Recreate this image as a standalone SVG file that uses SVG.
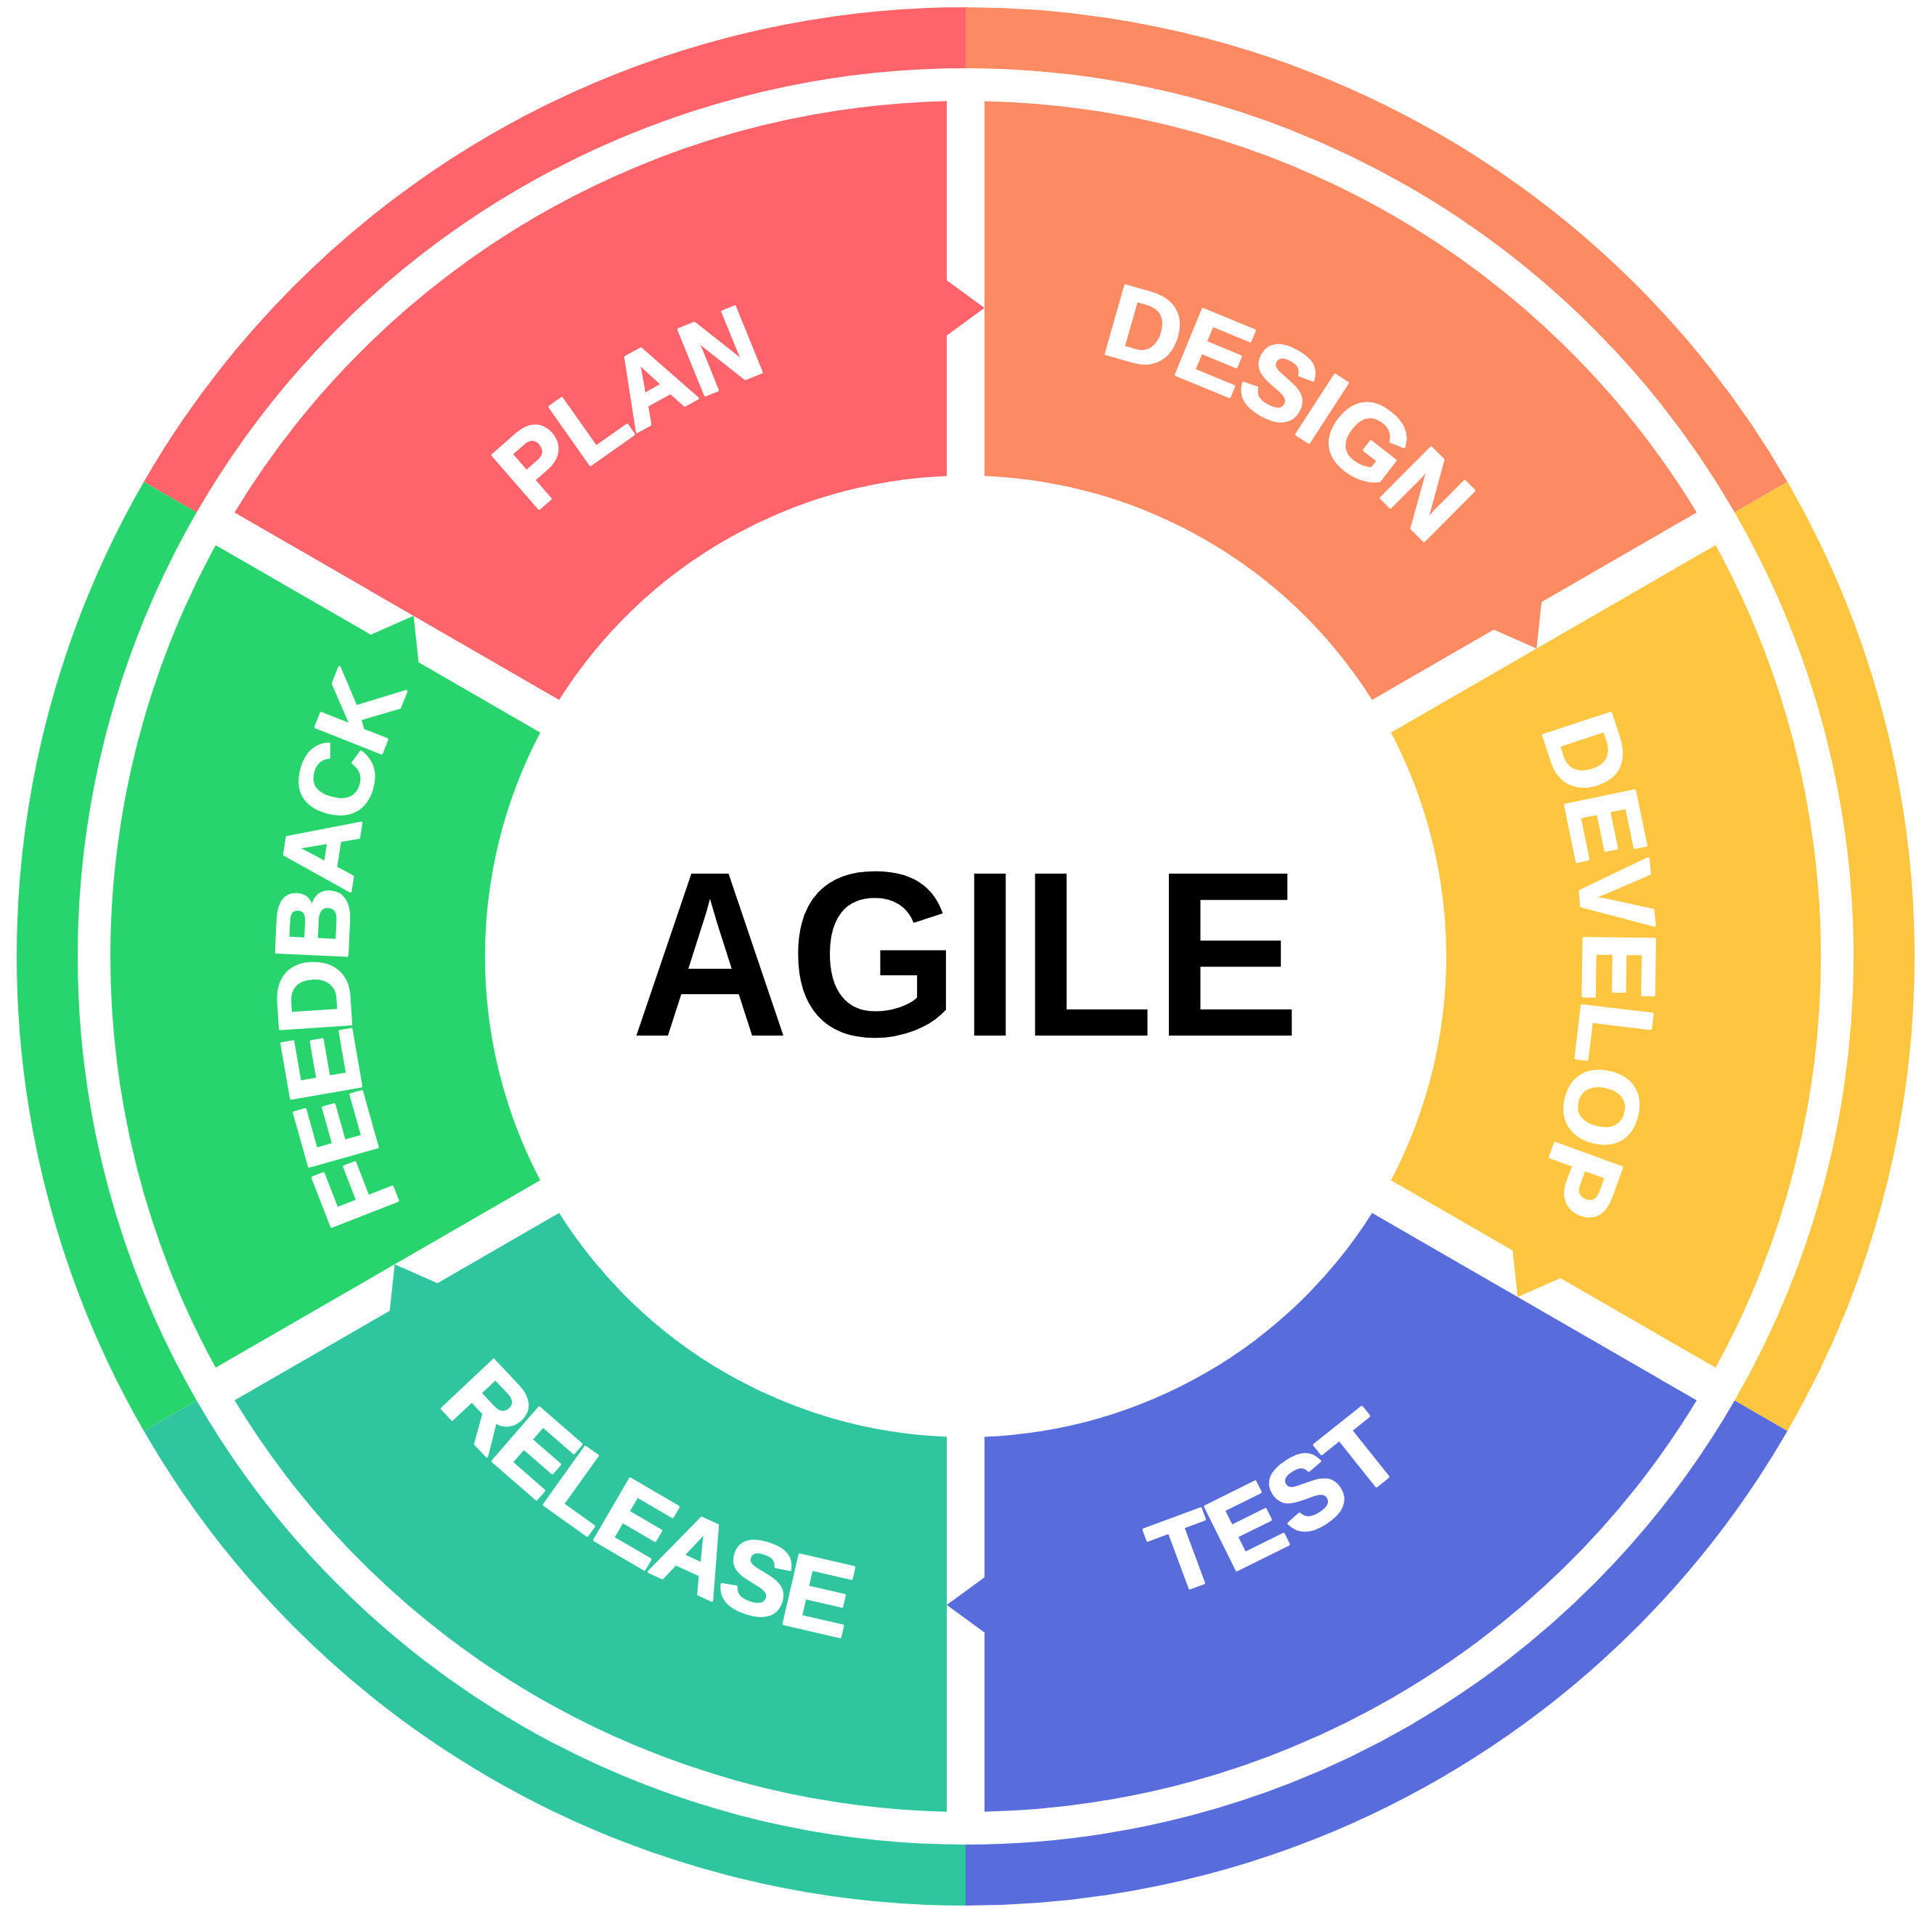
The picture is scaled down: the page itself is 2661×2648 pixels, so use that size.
<svg xmlns="http://www.w3.org/2000/svg" width="2661" height="2648" viewBox="0 0 2661 2648">
  <style>
    .ring { fill: none; stroke-width: 84; stroke-linecap: butt; }
    .label { font-family: "Liberation Sans", Arial, sans-serif; font-weight: 700; font-size: 142px; fill: #ffffff; stroke: #ffffff; stroke-width: 3.5px; stroke-linejoin: round; letter-spacing: -2px; }
    .title { font-family: "Liberation Sans", Arial, sans-serif; font-weight: 700; font-size: 324px; fill: #000000; }
    .plan { fill: #FE6469; } .design { fill: #FC8A62; } .develop { fill: #FEC640; }
    .test { fill: #586DDB; } .release { fill: #2FC59E; } .feedback { fill: #28D56C; }
  </style>
  <defs>
    <!-- baseline arcs: upper half runs clockwise, lower half counter-clockwise -->
    <path id="arcTop" d="M479,1317 A851,851 0 0 1 2181,1317"/>
    <path id="arcRelease" d="M378,1317 A952,952 0 0 0 2282,1317"/>
    <path id="arcTest" d="M407,1317 A923,923 0 0 0 2253,1317"/>
  </defs>
  <rect width="2661" height="2648" fill="#ffffff"/>

  <!-- outer colour ring -->
  <g id="outer-ring">
    <path class="ring" stroke="#FE6469" d="M234.48,684.5 A1265,1265 0 0 1 1330,52"/>
    <path class="ring" stroke="#FC8A62" d="M1330,52 A1265,1265 0 0 1 2425.52,684.5"/>
    <path class="ring" stroke="#FEC640" d="M2425.52,684.5 A1265,1265 0 0 1 2425.52,1949.5"/>
    <path class="ring" stroke="#586DDB" d="M2425.52,1949.5 A1265,1265 0 0 1 1330,2582"/>
    <path class="ring" stroke="#2FC59E" d="M1330,2582 A1265,1265 0 0 1 234.48,1949.5"/>
    <path class="ring" stroke="#28D56C" d="M234.48,1949.5 A1265,1265 0 0 1 234.48,684.5"/>
  </g>

  <g id="plan">
    <path class="plan" d="M1304,655.51 L1304,462 L1356,424 L1304,386 L1304,139.29 A1178,1178 0 0 0 323.07,705.63 L770.13,963.74 A662,662 0 0 1 1304,655.51 Z"/>
    <text class="label" transform="rotate(-31.5 1330 1317)"><textPath href="#arcTop" startOffset="50%" text-anchor="middle">PLAN</textPath></text>
  </g>

  <g id="design">
    <path class="design" d="M1889.87,963.74 L2057.45,866.98 L2116.36,893.02 L2123.27,828.98 L2336.93,705.63 A1178,1178 0 0 0 1356,139.29 L1356,655.51 A662,662 0 0 1 1889.87,963.74 Z"/>
    <text class="label" transform="rotate(30.4 1330 1317)"><textPath href="#arcTop" startOffset="50%" text-anchor="middle">DESIGN</textPath></text>
  </g>

  <g id="develop">
    <path class="develop" d="M1915.87,1625.23 L2083.45,1721.98 L2090.36,1786.02 L2149.27,1759.98 L2362.93,1883.34 A1178,1178 0 0 0 2362.93,750.66 L1915.87,1008.77 A662,662 0 0 1 1915.87,1625.23 Z"/>
    <text class="label" transform="rotate(90.8 1330 1317)"><textPath href="#arcTop" startOffset="50%" text-anchor="middle">DEVELOP</textPath></text>
  </g>

  <g id="test">
    <path class="test" d="M1356,1978.49 L1356,2172 L1304,2210 L1356,2248 L1356,2494.71 A1178,1178 0 0 0 2336.93,1928.37 L1889.87,1670.26 A662,662 0 0 1 1356,1978.49 Z"/>
    <text class="label" style="letter-spacing:6px" transform="rotate(-29.5 1330 1317)"><textPath href="#arcTest" startOffset="50%" text-anchor="middle">TEST</textPath></text>
  </g>

  <g id="release">
    <path class="release" d="M770.13,1670.26 L602.55,1767.02 L543.64,1740.98 L536.73,1805.02 L323.07,1928.37 A1178,1178 0 0 0 1304,2494.71 L1304,1978.49 A662,662 0 0 1 770.13,1670.26 Z"/>
    <text class="label" transform="rotate(30 1330 1317)"><textPath href="#arcRelease" startOffset="50%" text-anchor="middle">RELEASE</textPath></text>
  </g>

  <g id="feedback">
    <path class="feedback" d="M744.13,1008.77 L576.55,912.02 L569.64,847.98 L510.73,874.02 L297.07,750.66 A1178,1178 0 0 0 297.07,1883.34 L744.13,1625.23 A662,662 0 0 1 744.13,1008.77 Z"/>
    <text class="label" style="letter-spacing:-8px" transform="rotate(-89.5 1330 1317)"><textPath href="#arcTop" startOffset="50%" text-anchor="middle">FEEDBACK</textPath></text>
  </g>

  <g id="agile">
    <text class="title" x="869" y="1426" textLength="922" lengthAdjust="spacingAndGlyphs">AGILE</text>
  </g>
</svg>
